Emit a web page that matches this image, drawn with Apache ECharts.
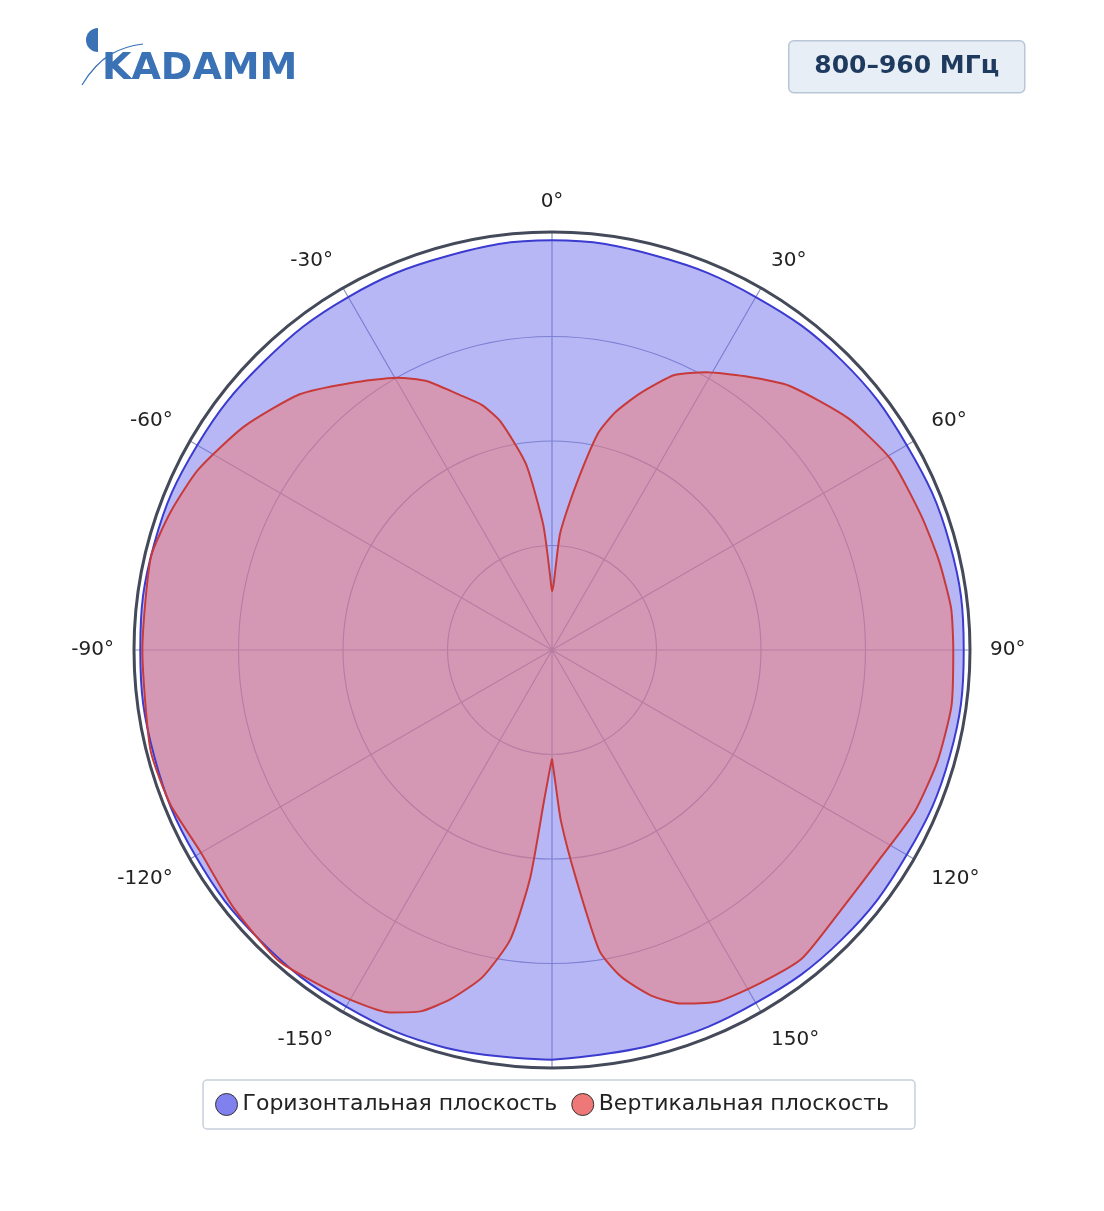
<!DOCTYPE html>
<html><head><meta charset="utf-8">
<script src="https://cdn.jsdelivr.net/npm/echarts@6/dist/echarts.min.js"></script>
<style>body{margin:0;background:#fff}#c{width:1104px;height:1211px}</style>
</head><body><div id="c"></div>
<script>
// angle (deg), level (0..1)
const vAngles = [-180, -178.5, -177, -174.5, -171.8, -168, -163.8, -160, -155.9, -148, -138.7, -129, -119.6, -112, -104, -90, -77, -70, -63, -54, -44.7, -37, -29.7, -25, -20, -16, -12.7, -8, -4, -1.5, 0,
  1.5, 4, 8, 12, 15, 19, 24, 29, 35, 42, 52, 60.6, 70, 77, 84, 90, 98, 106, 114, 122.6, 132, 141, 148, 154.6, 160, 164, 168, 171, 174, 177, 178.5, 180];
const vLevels = [0.26, 0.30, 0.36, 0.55, 0.70, 0.80, 0.87, 0.92, 0.95, 0.97, 0.99, 0.98, 0.97, 0.985, 0.99, 0.98, 0.985, 0.97, 0.95, 0.91, 0.86, 0.80, 0.75, 0.71, 0.65, 0.61, 0.56, 0.45, 0.30, 0.18, 0.14,
  0.16, 0.28, 0.39, 0.53, 0.59, 0.65, 0.72, 0.76, 0.80, 0.85, 0.90, 0.93, 0.94, 0.95, 0.96, 0.96, 0.965, 0.96, 0.95, 0.93, 0.93, 0.95, 0.94, 0.93, 0.90, 0.86, 0.80, 0.73, 0.55, 0.41, 0.32, 0.26];
const hAngles = [-180, -165, -150, -135, -120, -105, -90, -75, -60, -45, -30, -15, 0, 15, 30, 45, 60, 75, 90, 105, 120, 135, 150, 165, 180];
const hLevels = [0.98, 0.985, 0.985, 0.985, 0.985, 0.985, 0.985, 0.985, 0.98, 0.975, 0.975, 0.975, 0.98, 0.975, 0.975, 0.98, 0.98, 0.985, 0.985, 0.985, 0.98, 0.98, 0.975, 0.975, 0.98];

const chart = echarts.init(document.getElementById('c'));
chart.setOption({
  animation: false,
  textStyle: { fontFamily: 'DejaVu Sans' },
  graphic: [
    { type: 'text', left: 102, top: 50, style: { text: 'KADAMM', font: 'bold 38px "DejaVu Sans"', fill: '#3a72b5' } },
    { type: 'sector', shape: { cx: 98, cy: 40, r: 12, startAngle: Math.PI / 2, endAngle: Math.PI * 1.5 }, style: { fill: '#3a72b5' } },
    { type: 'bezierCurve', shape: { x1: 82, y1: 85, x2: 143, y2: 44, cpx1: 100, cpy1: 55, cpx2: 120, cpy2: 47 }, style: { stroke: '#3a72b5', lineWidth: 1.2, fill: null } },
    { type: 'group', left: 788, top: 40, children: [
      { type: 'rect', shape: { width: 236, height: 52, r: 5 }, style: { fill: '#e8eef6', stroke: '#b8c6d8', lineWidth: 1.5 } },
      { type: 'text', style: { x: 118, y: 26, text: '800–960 МГц', align: 'center', verticalAlign: 'middle', font: 'bold 25px "DejaVu Sans"', fill: '#1f3a5f' } }
    ] }
  ],
  legend: {
    top: 1080, left: 'center', icon: 'circle', itemWidth: 22, itemHeight: 22,
    textStyle: { fontSize: 22, color: '#222' }, padding: [13, 26, 13, 12], itemGap: 14,
    borderColor: '#c8d0dc', borderWidth: 1.5, borderRadius: 4,
    data: [
      { name: 'Горизонтальная плоскость', itemStyle: { color: '#8080ee', borderColor: '#333', borderWidth: 1 } },
      { name: 'Вертикальная плоскость', itemStyle: { color: '#ee7777', borderColor: '#333', borderWidth: 1 } }
    ]
  },
  polar: { center: [552, 650], radius: 418 },
  angleAxis: {
    type: 'value', min: -180, max: 180, interval: 30, startAngle: 270, clockwise: true,
    axisLine: { lineStyle: { color: '#444a5a', width: 3 } },
    axisTick: { show: false },
    axisLabel: { fontSize: 20, color: '#222', margin: 20, formatter: v => (v === 180 || v === -180) ? '' : v + '°' },
    splitLine: { show: true, lineStyle: { color: '#8a90b8', width: 1.2 } }
  },
  radiusAxis: {
    min: 0, max: 1, interval: 0.25,
    axisLine: { show: false }, axisTick: { show: false }, axisLabel: { show: false },
    splitLine: { show: true, lineStyle: { color: '#8a90b8', width: 1.2 } }
  },
  series: [
    { name: 'Горизонтальная плоскость', type: 'line', coordinateSystem: 'polar', showSymbol: false, smooth: 0.4,
      data: hAngles.map((a, i) => [hLevels[i], a]),
      lineStyle: { color: '#3b3bd0', width: 2 }, itemStyle: { color: '#8080ee' }, areaStyle: { color: '#7070ee', opacity: 0.5 } },
    { name: 'Вертикальная плоскость', type: 'line', coordinateSystem: 'polar', showSymbol: false, smooth: 0.2,
      data: vAngles.map((a, i) => [vLevels[i], a]),
      lineStyle: { color: '#c83a3a', width: 2 }, itemStyle: { color: '#ee7777' }, areaStyle: { color: '#f37974', opacity: 0.5 } }
  ]
});
</script></body></html>
